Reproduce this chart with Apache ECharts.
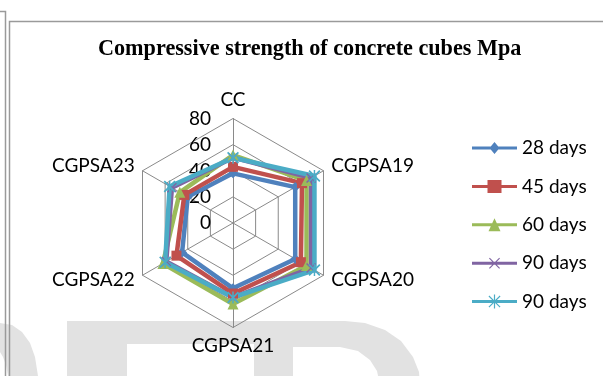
<!DOCTYPE html>
<html>
<head>
<meta charset="utf-8">
<script src="https://cdn.jsdelivr.net/npm/echarts@6/dist/echarts.min.js"></script>
<style>
html,body{margin:0;padding:0;background:#fff;}
#chart{width:603px;height:376px;}
</style>
</head>
<body>
<div id="chart"></div>
<script>
// ---- data ----
var categories = ['CC', 'CGPSA19', 'CGPSA20', 'CGPSA21', 'CGPSA22', 'CGPSA23'];
var seriesNames = ['28 days', '45 days', '60 days', '90 days', '90 days '];
var days28 = [38, 55, 55, 50, 45, 40];
var days45 = [43, 61, 60, 54, 50, 43];
var days60 = [52, 65, 65, 62, 62, 47];
var days90a = [50, 69, 69, 57, 59, 54];
var days90b = [50, 72, 72, 57, 60, 56];
var tickLabels = ['0', '20', '40', '60', '80'];
var axisMax = 80;

// ---- styles ----
var colors = ['#4F81BD', '#C0504D', '#9BBB59', '#8064A2', '#4BACC6'];
var box = ' M0 0h0.01v0.01z M0 16h0.01v-0.01z';
var lineP = 'M0 6.5H45V9.5H0Z';
var legendIcons = [
  'path://' + lineP + ' M22.5 2L27.5 8L22.5 14L17.5 8Z' + box,
  'path://' + lineP + ' M15.5 1.5H29.5V14.5H15.5Z' + box,
  'path://' + lineP + ' M22.5 1.5L28.5 14.5H16.5Z' + box,
  'path://' + lineP + ' M17 3.3L17.8 2.5L28 12.7L27.2 13.5Z M27.2 2.5L28 3.3L17.8 13.5L17 12.7Z' + box,
  'path://' + lineP + ' M16.5 2.8L17.3 2L28.5 13.2L27.7 14Z M27.7 2L28.5 2.8L17.3 14L16.5 13.2Z M21.9 1H23.1V15H21.9Z' + box
];
var symX = 'path://M0 1L1 0L10 9L9 10Z M9 0L10 1L1 10L0 9Z';
var symAst = 'path://M0 1L1 0L10 9L9 10Z M9 0L10 1L1 10L0 9Z M4.4 0H5.6V10H4.4Z';
var symbols = ['diamond', 'rect', 'triangle', symX, symAst];
var symbolSizes = [10, 10, 11, 10, 12];
var allValues = [days28, days45, days60, days90a, days90b];

// radar goes counter-clockwise, so reverse order after first for clockwise display
function cw(arr) { return [arr[0]].concat(arr.slice(1).reverse()); }

var indicators = cw(categories).map(function (c, i) {
  var o = { name: c, min: 0, max: axisMax };
  if (i === 0) o.axisLabel = { show: true };
  return o;
});

var WM = '#e2e2e2';
var chart = echarts.init(document.getElementById('chart'), null, { renderer: 'canvas' });
var FONT = 'Lato';
chart.setOption({
  animation: false,
  backgroundColor: '#fff',
  title: {
    text: 'Compressive strength of concrete cubes Mpa',
    left: 98, top: 38, padding: 0,
    textStyle: { fontFamily: 'Liberation Serif', fontWeight: 'bold', fontSize: 22.2, color: '#000' }
  },
  legend: {
    orient: 'vertical',
    left: 467, top: 133,
    itemWidth: 45, itemHeight: 16, itemGap: 18.4,
    textStyle: { fontFamily: FONT, fontSize: 19, color: '#000', lineHeight: 20 },
    data: seriesNames.map(function (n, i) { return { name: n, icon: legendIcons[i] }; })
  },
  radar: {
    center: [233, 223],
    radius: 104.5,
    startAngle: 90,
    splitNumber: 4,
    shape: 'polygon',
    indicator: indicators,
    axisName: { color: '#000', fontFamily: FONT, fontSize: 19 },
    nameGap: 9,
    axisLine: { lineStyle: { color: '#8a8a8a', width: 1 } },
    splitLine: { lineStyle: { color: '#8a8a8a', width: 1 } },
    splitArea: { show: false },
    axisTick: { show: false },
    axisLabel: {
      show: false, color: '#000', fontFamily: FONT, fontSize: 19, margin: 22,
      formatter: function (v) { var k = Math.round(v / 20); return tickLabels[k] !== undefined ? tickLabels[k] : v; }
    }
  },
  graphic: [
    { type: 'polygon', z: -10, silent: true, shape: { points: [[67,321],[254,321],[254,344],[127,344],[127,400],[67,400]] }, style: { fill: WM } },
    { type: 'polygon', z: -10, silent: true, shape: { points: [[254,321],[345,321],[365,323],[385,330],[401,341],[413,357],[419,372],[420,385],[420,400],[380,400],[380,385],[377,371],[370,360],[358,351],[340,347],[293,347],[293,400],[254,400]] }, style: { fill: WM } },
    { type: 'polygon', z: -10, silent: true, shape: { points: [[0,323],[12,325],[22,332],[30,343],[35,357],[38,376],[8,376],[6,365],[3,357],[0,352]] }, style: { fill: WM } },
    { type: 'rect', z: -5, silent: true, shape: { x: 9.5, y: 21.5, width: 700, height: 500 }, style: { fill: 'none', stroke: '#9a9a9a', lineWidth: 1.5 } },
    { type: 'polyline', z: -5, silent: true, shape: { points: [[0, 11.5], [5.5, 11.5], [5.5, 376]] }, style: { fill: 'none', stroke: '#9a9a9a', lineWidth: 1.5 } }
  ],
  series: seriesNames.map(function (n, i) {
    return {
      type: 'radar',
      name: n,
      symbol: symbols[i],
      symbolSize: symbolSizes[i],
      itemStyle: { color: colors[i] },
      lineStyle: { color: colors[i], width: 4.5 },
      data: [{ value: cw(allValues[i]), name: n }]
    };
  })
});
</script>
</body>
</html>
